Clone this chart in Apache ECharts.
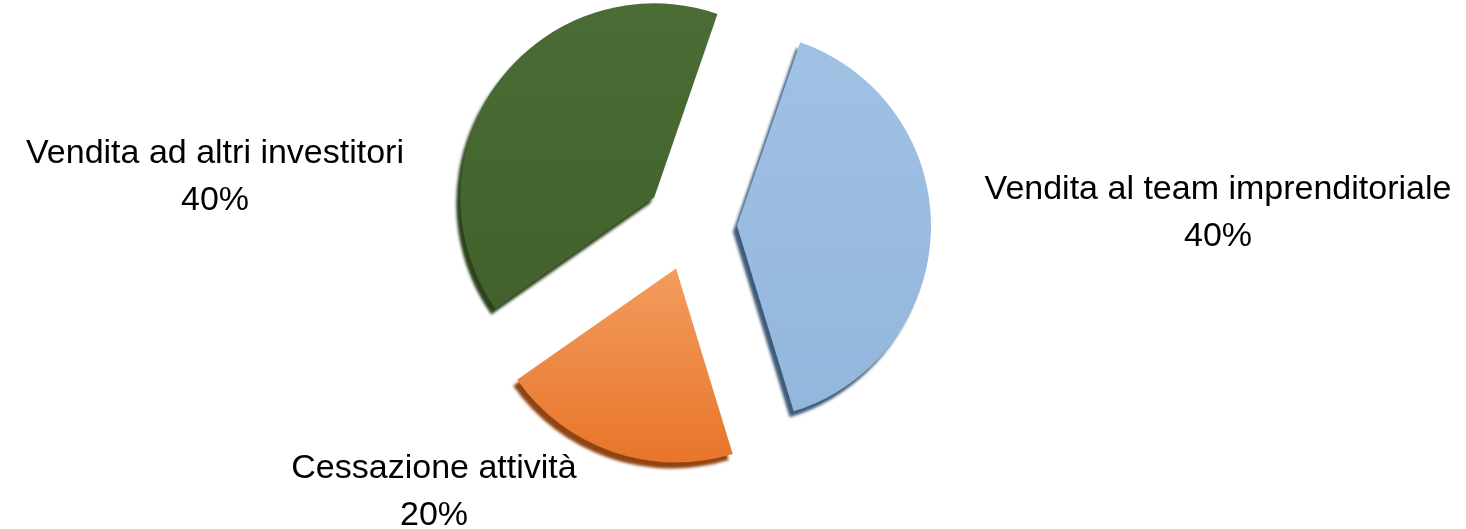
<!DOCTYPE html>
<html>
<head>
<meta charset="utf-8">
<title>Exit</title>
<script src="https://cdn.jsdelivr.net/npm/echarts@6/dist/echarts.min.js"></script>
<style>
  html, body { margin: 0; padding: 0; background: #ffffff; }
  #chart { width: 1466px; height: 529px; }
</style>
</head>
<body>
<div id="chart"></div>
<script>
// Exit routes and their shares (percent)
const categories = ['Vendita al team imprenditoriale', 'Cessazione attività', 'Vendita ad altri investitori'];
const shares = [40, 20, 40];

// Slice fills (top, bottom of gradient) and the darker side colour for the depth edge
const fillTop = ['#a0c1e4', '#f39c5e', '#4b6c34'];
const fillBottom = ['#93b6dc', '#e8752b', '#42612c'];
const sideColor = ['#3f5b78', '#8f4413', '#2c421c'];

// Where each two-line label sits (centre of the text block)
const labelSpots = [
  { x: 1218, y: 213 },
  { x: 434, y: 492 },
  { x: 215, y: 177 }
];

const chart = echarts.init(document.getElementById('chart'), null, { renderer: 'canvas' });

const pieCenter = [691, 225];
const pieRadius = 194;
const pieStart = 71;

// Exploded slices with a dark offset edge to give them some thickness
const sliceData = categories.map((name, i) => ({
  name: name,
  value: shares[i],
  selected: true,
  itemStyle: {
    color: new echarts.graphic.LinearGradient(0, 0, 0, 1, [
      { offset: 0, color: fillTop[i] },
      { offset: 1, color: fillBottom[i] }
    ]),
    shadowColor: sideColor[i],
    shadowBlur: 3,
    shadowOffsetX: -4,
    shadowOffsetY: 6
  }
}));

// Same values again, carrying only the category / percentage labels
const labelData = categories.map((name, i) => ({ name: name, value: shares[i] }));

chart.setOption({
  animation: false,
  backgroundColor: '#ffffff',
  series: [
    {
      type: 'pie',
      center: pieCenter,
      radius: [0, pieRadius],
      startAngle: pieStart,
      clockwise: true,
      selectedMode: 'multiple',
      selectedOffset: 46,
      emphasis: { disabled: true },
      silent: true,
      data: sliceData,
      label: { show: false },
      labelLine: { show: false }
    },
    {
      type: 'pie',
      center: pieCenter,
      radius: [0, pieRadius],
      startAngle: pieStart,
      clockwise: true,
      selectedMode: false,
      avoidLabelOverlap: false,
      silent: true,
      emphasis: { disabled: true },
      itemStyle: { color: 'rgba(0,0,0,0)' },
      data: labelData,
      z: 3,
      label: {
        show: true,
        position: 'inside',
        formatter: '{b}\n{c}%',
        fontFamily: '"Liberation Sans", Arial, sans-serif',
        fontSize: 34,
        lineHeight: 47,
        color: '#000000',
        align: 'center',
        verticalAlign: 'middle'
      },
      labelLine: { show: false },
      labelLayout: function (params) {
        const spot = labelSpots[params.dataIndex];
        return {
          x: spot.x,
          y: spot.y,
          align: 'center',
          verticalAlign: 'middle'
        };
      }
    }
  ]
});
</script>
</body>
</html>
